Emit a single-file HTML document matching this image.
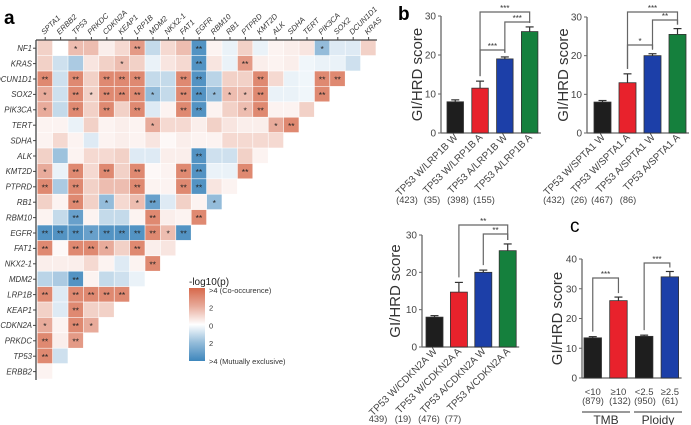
<!DOCTYPE html>
<html><head><meta charset="utf-8">
<style>
html,body{margin:0;padding:0;background:#fff;}
svg{display:block;font-family:"Liberation Sans",Arial,sans-serif;}
</style></head>
<body>
<svg id="fig" width="691" height="425" viewBox="0 0 691 425" xmlns="http://www.w3.org/2000/svg">
<text x="4" y="24" font-size="19" font-weight="bold">a</text>
<text x="398" y="20" font-size="19" font-weight="bold">b</text>
<text x="570" y="232" font-size="19">c</text>
<g id="heat"></g>
<g id="legend"></g>
<g id="bars"></g>
</svg>
<script>
// ---------- Heatmap data ----------
const genesCols = ["SPTA1","ERBB2","TP53","PRKDC","CDKN2A","KEAP1","LRP1B","MDM2","NKX2-1","FAT1","EGFR","RBM10","RB1","PTPRD","KMT2D","ALK","SDHA","TERT","PIK3CA","SOX2","DCUN1D1","KRAS"];
const genesRows = ["NF1","KRAS","DCUN1D1","SOX2","PIK3CA","TERT","SDHA","ALK","KMT2D","PTPRD","RB1","RBM10","EGFR","FAT1","NKX2-1","MDM2","LRP1B","KEAP1","CDKN2A","PRKDC","TP53","ERBB2"];
const heatValues = [
 [1,0,1.5,1.5,0.3,0.8,2.5,-1,0.8,1.5,-3.5,0.2,-0.3,1,-0.3,0.2,0.3,0.5,-2,-0.5,-0.5,1],
 [1,-0.8,-1.5,0.5,1,1.5,1,-0.3,0.5,0.8,-3.5,0.5,-0.3,2.5,0.3,0.2,0.3,-0.2,-0.3,-0.3,-0.8],
 [3,-0.8,3,1,3,3,3,-1,-1,3,-3.5,-1.2,1,1,3,0.8,-0.3,-0.2,3,3],
 [2,-0.8,3,1,3,3,3,-2,-1,3,-3.5,-2,1.5,1.5,3,-0.3,-0.3,-0.2,3],
 [2,-1,3,1,3,1,3,-0.5,0.2,3,-3.5,0.2,1,1.5,3,0.2,0.2,1],
 [0.2,0.2,-0.3,1,0.2,0.3,0.2,2,0.8,0.8,0.3,1,0.5,0.3,0.3,2,3],
 [0.2,0.8,0.2,-0.5,0.2,0.3,0.2,0.5,0.1,0.3,0.2,0.2,0.8,0.8,0.8,0.8],
 [1,-1.8,0.2,0.8,0.8,1,-0.5,-0.5,0.3,0.3,-3.5,-0.8,-0.8,1,0.2],
 [2,-0.3,3,0.8,3,1,3,0.1,0.2,3,-3.5,-0.3,-0.3,3],
 [3,-1.5,3,1,1.5,1.5,3,0.2,0.2,3,-3.5,0.5,0.2],
 [1,0.2,3,1,-2,0.8,1.5,-3,-0.5,1,0.2,-2],
 [0.2,-1,-3,0.2,-1,-1,0.2,3,0.3,0.2,3],
 [-3.5,-3.5,-3.5,-3,-3.5,-3.5,-3.5,3,1.5,-3.5],
 [3,0.1,3,3,2,1,3,0.3,0.5],
 [0.3,0.3,0.3,0.8,0.2,-0.5,0.2,3],
 [-1.2,-1.5,-3.5,0.2,-1,-0.8,-0.3],
 [3,-0.5,3,3,3,3],
 [1,-0.5,3,1,1],
 [2,0.2,3,2],
 [3,0.3,2.5],
 [3,-0.8],
 [0.2]
];
// star counts per cell (0/1/2)
const heatStarCounts = [
 [0,0,1,0,0,0,2,0,0,0,2,0,0,0,0,0,0,0,1,0,0,0],
 [0,0,0,0,0,1,0,0,0,0,2,0,0,2,0,0,0,0,0,0,0],
 [2,0,2,0,2,2,2,0,0,2,2,0,0,0,2,0,0,0,2,2],
 [1,0,2,1,2,2,2,1,0,2,2,1,1,1,2,0,0,0,2],
 [1,0,2,0,2,0,2,0,0,2,2,0,0,1,2,0,0,0],
 [0,0,0,0,0,0,0,1,0,0,0,0,0,0,0,1,2],
 [0,0,0,0,0,0,0,0,0,0,0,0,0,0,0,0],
 [0,0,0,0,0,0,0,0,0,0,2,0,0,0,0],
 [1,0,2,0,2,0,2,0,0,2,2,0,0,2],
 [2,0,2,0,0,0,2,0,0,2,2,0,0],
 [0,0,2,0,1,0,1,2,0,0,0,1],
 [0,0,2,0,0,0,0,2,0,0,2],
 [2,2,2,1,2,2,2,2,1,2],
 [2,0,2,2,1,0,2,0,0],
 [0,0,0,0,0,0,0,2],
 [0,0,2,0,0,0,0],
 [2,0,2,2,2,2],
 [0,0,2,0,0],
 [1,0,2,1],
 [2,0,2],
 [2,0],
 [0]
];
const legendTicks = [">4 (Co-occurence)","2","0","2",">4 (Mutually exclusive)"];

const NS="http://www.w3.org/2000/svg";
function mk(tag,attrs,parent,text){const e=document.createElementNS(NS,tag);for(const k in attrs)e.setAttribute(k,attrs[k]);if(text!==undefined)e.textContent=text;parent.appendChild(e);return e;}
const RED=[214,104,74], BLUE=[62,134,188];
function colorFor(v){const t=Math.min(Math.abs(v),4)/4;const c=v>=0?RED:BLUE;const a=Math.pow(t,0.85);
 const r=Math.round(255+(c[0]-255)*a),g=Math.round(255+(c[1]-255)*a),b=Math.round(255+(c[2]-255)*a);return `rgb(${r},${g},${b})`;}
const cell=15.4, hx0=37.5, hy0=40.5;
const hx=i=>hx0+i*cell, hy=j=>hy0+j*cell;
const heat=document.getElementById('heat');
heatValues.forEach((row,j)=>{row.forEach((v,i)=>{
  const r=mk('rect',{x:hx(i),y:hy(j),width:cell-0.6,height:cell-0.6,fill:colorFor(v)},heat);
  
  
  const s=heatStarCounts[j][i];
  if(s>0){const t=mk('text',{x:hx(i)+cell/2-0.3,y:hy(j)+cell/2+3.6,'font-size':8.5,'text-anchor':'middle',fill:'#222'},heat,'*'.repeat(s));
    
    }
});});
let ax=mk('line',{x1:36,y1:40,x2:36,y2:380,stroke:'#444','stroke-width':1.3},heat);

ax=mk('line',{x1:36,y1:40,x2:377,y2:40,stroke:'#444','stroke-width':1.3},heat);

genesRows.forEach((g,j)=>{const y=hy(j)+cell/2;
  mk('line',{x1:33,y1:y,x2:36,y2:y,stroke:'#444','stroke-width':1},heat);
  const t=mk('text',{x:32,y:y+2.8,'font-size':7.8,'font-style':'italic','text-anchor':'end',fill:'#333'},heat,g);
  
  });
genesCols.forEach((g,i)=>{const x=hx(i)+cell/2;
  mk('line',{x1:x,y1:37,x2:x,y2:40,stroke:'#444','stroke-width':1},heat);
  const t=mk('text',{x:x-1,y:35,'font-size':7.6,'font-style':'italic',fill:'#333',transform:`rotate(-45 ${x-1} 35)`},heat,g);
  
  });
const lg=document.getElementById('legend');
mk('text',{x:189,y:285,'font-size':10,fill:'#222'},lg,'-log10(p)');
const defs=mk('defs',{},lg);
const grad=mk('linearGradient',{id:'lgGrad',x1:0,y1:0,x2:0,y2:1},defs);
[4,2,0,-2,-4].forEach((v,k)=>mk('stop',{offset:(k*25)+'%','stop-color':colorFor(v)},grad));
const lb=mk('rect',{x:189,y:288,width:16,height:73,fill:'url(#lgGrad)'},lg);

legendTicks.forEach((t,k)=>{const y=290+k*17.7;
  const e=mk('text',{x:209,y:y+3,'font-size':7.5,fill:'#333'},lg,t);
  });

// ---------- Bar chart data ----------
const lrp1bLabels = ["TP53 W/LRP1B W","TP53 W/LRP1B A","TP53 A/LRP1B W","TP53 A/LRP1B A"];
const lrp1bMeans = [8,11.5,19,26];
const lrp1bErr = [0.5,1.8,0.5,1.2];
const lrp1bCounts = ["(423)","(35)","(398)","(155)"];
const spta1Labels = ["TP53 W/SPTA1 W","TP53 W/SPTA1 A","TP53 A/SPTA1 W","TP53 A/SPTA1 A"];
const spta1Means = [8,13,20,25.5];
const spta1Err = [0.4,2.3,0.5,1.5];
const spta1Counts = ["(432)","(26)","(467)","(86)"];
const cdkn2aLabels = ["TP53 W/CDKN2A W","TP53 W/CDKN2A A","TP53 A/CDKN2A W","TP53 A/CDKN2A A"];
const cdkn2aMeans = [8,14.7,20,25.8];
const cdkn2aErr = [0.4,2.6,0.6,1.8];
const cdkn2aCounts = ["439)","(19)","(476)","(77)"];
const tmbLabels = ["<10","≥10","<2.5","≥2.5"];
const tmbMeans = [13.5,26,14,34];
const tmbErr = [0.4,1.2,0.4,1.8];
const tmbCounts = ["(879)","(132)","(950)","(61)"];
const barColors = ["#1e1e1e","#e8222c","#1c3fa8","#15803d"];

const bars=document.getElementById('bars');
function chart(o){
  const g=mk('g',{},bars);
  
  
  const yS=v=>o.y0-(v/o.ymax)*(o.y0-o.ytop);
  const xS=i=>o.x0+o.barStart+i*o.step;
  mk('line',{x1:o.x0,y1:o.ytop,x2:o.x0,y2:o.y0,stroke:'#666','stroke-width':1.3},g);
  mk('line',{x1:o.x0,y1:o.y0,x2:xS(3)+o.bw+3,y2:o.y0,stroke:'#666','stroke-width':1.3},g);
  o.ticks.forEach(t=>{const y=yS(t);mk('line',{x1:o.x0-3,y1:y,x2:o.x0,y2:y,stroke:'#666'},g);
    const e=mk('text',{x:o.x0-5,y:y+3.5,'font-size':10,'text-anchor':'end',fill:'#444'},g,String(t));
    });
  const yl=mk('text',{x:o.ylx,y:(o.y0+o.ytop)/2,'font-size':15,'text-anchor':'middle',fill:'#333',transform:`rotate(-90 ${o.ylx} ${(o.y0+o.ytop)/2})`},g,'GI/HRD score');
  
  o.means.forEach((m,i)=>{const x=xS(i),y=yS(m),ye=yS(m+o.err[i]);
    mk('line',{x1:x+o.bw/2,y1:ye,x2:x+o.bw/2,y2:y,stroke:'#333','stroke-width':1.2},g);
    mk('line',{x1:x+o.bw/2-4,y1:ye,x2:x+o.bw/2+4,y2:ye,stroke:'#333','stroke-width':1.2},g);
    const r=mk('rect',{x:x,y:y,width:o.bw,height:o.y0-y,fill:o.colors[i],stroke:'#333','stroke-width':0.8},g);
    
    if(o.rot){const cx=x+o.bw/2+3,cy=o.y0+5;
      const t=mk('text',{x:cx,y:cy,'font-size':10,'text-anchor':'end',fill:'#444',transform:`rotate(-45 ${cx} ${cy})`},g,o.labels[i]);
      }
    else {const t=mk('text',{x:x+o.bw/2,y:o.y0+17,'font-size':9.5,'text-anchor':'middle',fill:'#444'},g,o.labels[i]);
      }
    const c=mk('text',{x:o.cx[i],y:o.cy,'font-size':9.3,'text-anchor':'middle',fill:'#444'},g,o.counts[i]);
    
  });
  o.brackets.forEach(b=>{const xa=xS(b[0])+o.bw/2,xb=xS(b[1])+o.bw/2,yt=b[2];
    const ya=yS(o.means[b[0]]+o.err[b[0]])-5, yb=yS(o.means[b[1]]+o.err[b[1]])-4;
    mk('polyline',{points:`${xa},${ya} ${xa},${yt} ${xb},${yt} ${xb},${yb}`,fill:'none',stroke:'#666','stroke-width':1.2},g);
    const t=mk('text',{x:(xa+xb)/2,y:yt-1,'font-size':8,'text-anchor':'middle',fill:'#333'},g,b[3]);
    });
  return {g,xS};
}
chart({name:'lrp1b-chart',x0:441,y0:133,ytop:16,ymax:30,ticks:[0,10,20,30],barStart:6,step:24.8,bw:16.5,
  means:lrp1bMeans,err:lrp1bErr,labels:lrp1bLabels,counts:lrp1bCounts,colors:barColors,rot:true,
  cx:[407,432,458,484],cy:203,ylx:422,brackets:[[1,2,50,'***'],[2,3,22,'***'],[1,3,12,'***']]});
chart({name:'spta1-chart',x0:587,y0:133,ytop:17,ymax:30,ticks:[0,10,20,30],barStart:7,step:25,bw:17,
  means:spta1Means,err:spta1Err,labels:spta1Labels,counts:spta1Counts,colors:barColors,rot:true,
  cx:[554,579,602,628],cy:203,ylx:568,brackets:[[1,2,45,'*'],[2,3,20,'**'],[1,3,12,'***']]});
chart({name:'cdkn2a-chart',x0:422,y0:347,ytop:235,ymax:30,ticks:[0,10,20,30],barStart:4,step:24.4,bw:17,
  means:cdkn2aMeans,err:cdkn2aErr,labels:cdkn2aLabels,counts:cdkn2aCounts,colors:barColors,rot:true,
  cx:[378,403,429,453],cy:422,ylx:400,brackets:[[2,3,234,'**'],[1,3,225,'**']]});
chart({name:'tmb-ploidy-chart',x0:582,y0:378,ytop:259,ymax:40,ticks:[0,10,20,30,40],barStart:2,step:25.7,bw:17.5,
  means:tmbMeans,err:tmbErr,labels:tmbLabels,counts:tmbCounts,colors:["#1e1e1e","#e8222c","#1e1e1e","#1c3fa8"],rot:false,
  cx:[593,620,645,670],cy:404,ylx:562,brackets:[[0,1,278,'***'],[2,3,263,'***']]});
const gc=document.getElementById('bars');
let l=mk('line',{x1:582,y1:412,x2:630,y2:412,stroke:'#333'},gc);
l=mk('line',{x1:634,y1:412,x2:682,y2:412,stroke:'#333'},gc);
let t=mk('text',{x:606,y:424,'font-size':12,'text-anchor':'middle',fill:'#333'},gc,'TMB');

t=mk('text',{x:658,y:424,'font-size':12,'text-anchor':'middle',fill:'#333'},gc,'Ploidy');

</script>
</body></html>
